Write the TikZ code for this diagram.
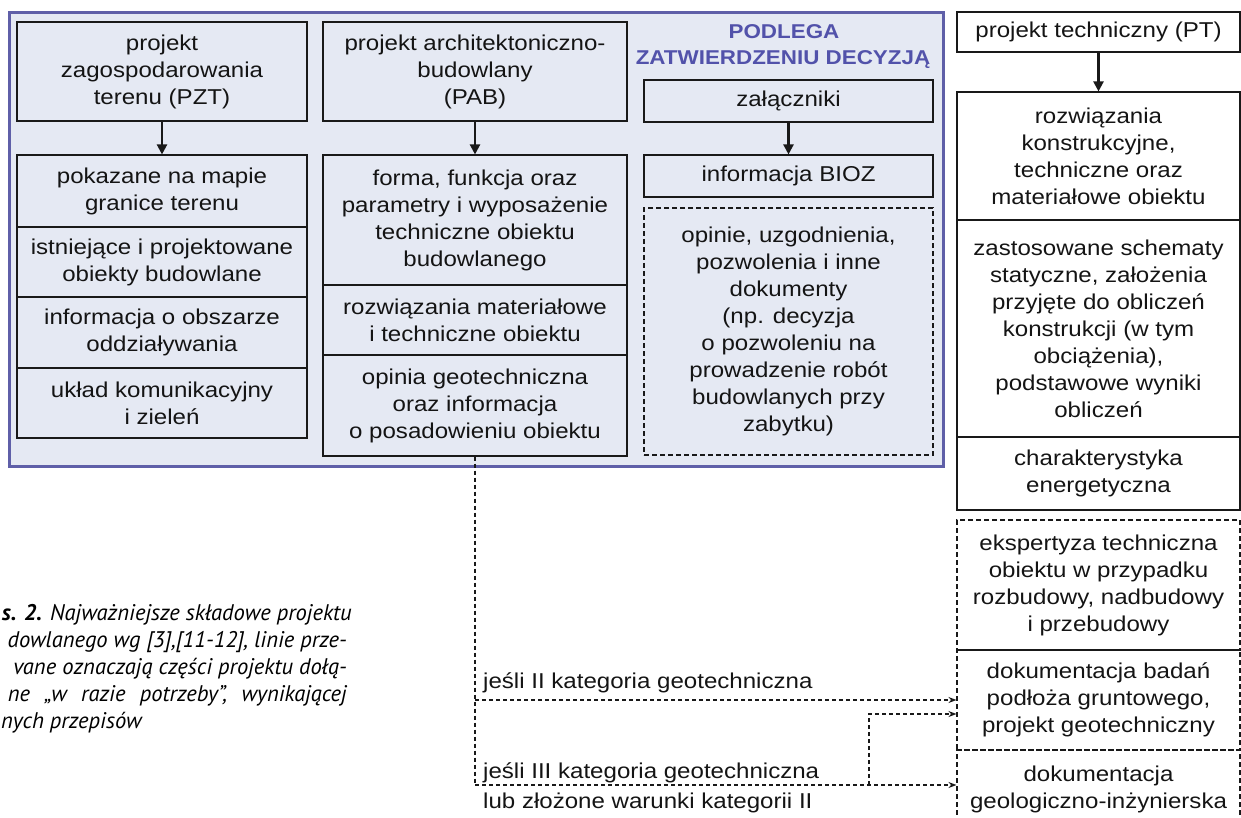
\documentclass[tikz,border=0pt]{standalone}
\usepackage{fontspec}
\setmainfont{Liberation Sans}[FakeStretch=1.12]
\newfontfamily\capfont{PT Sans}
\usetikzlibrary{arrows.meta}
\definecolor{frameblue}{RGB}{95,95,168}
\definecolor{framefill}{RGB}{229,233,243}
\definecolor{titleblue}{RGB}{82,82,170}
\definecolor{lineblack}{RGB}{25,25,25}
\newcommand{\mkbox}[7][box]{%
  \pgfmathsetmacro\mkcx{(#3+#5)/2}\pgfmathsetmacro\mkcy{(#4+#6)/2}%
  \pgfmathsetmacro\mkbw{#5-#3}\pgfmathsetmacro\mkbh{#6-#4}%
  \node[#1, minimum width=\mkbw pt, minimum height=\mkbh pt] (#2) at (\mkcx,\mkcy) {#7};}
\begin{document}
\begin{tikzpicture}[x=1pt,y=-1pt,
  txt/.style={font=\fontsize{21.5}{27}\selectfont, text=black!92},
  box/.style={txt, draw=lineblack, line width=1.1pt, align=center, inner sep=0pt},
  dbox/.style={box, dash pattern=on 5pt off 3pt},
  frm/.style={draw=frameblue, line width=3pt, fill=framefill, inner sep=0pt},
  arr/.style={draw=lineblack, line width=2.2pt, -{Triangle[length=10pt,width=10pt]}},
  dline/.style={draw=lineblack, line width=1.1pt, dash pattern=on 4pt off 3pt},
  darr/.style={dline, -{Stealth[length=8pt,width=6pt]}},
  lbl/.style={txt, inner sep=0pt},
  ttl/.style={font=\fontsize{20}{24}\selectfont\bfseries, text=titleblue, inner sep=0pt},
  captext/.style={font=\capfont\itshape\fontsize{22.6}{27}\selectfont, inner sep=0pt}]
\useasboundingbox (0,0) rectangle (1241,818);
% frame
\mkbox[frm]{frame}{9}{13}{943}{466}{}
% column 1
\mkbox{pzt}{17}{22}{307}{121}{projekt\\zagospodarowania\\terenu (PZT)}
\mkbox{c1a}{17}{155}{307}{227}{pokazane na mapie\\granice terenu}
\mkbox{c1b}{17}{227}{307}{297}{istniejące i projektowane\\obiekty budowlane}
\mkbox{c1c}{17}{297}{307}{368}{informacja o obszarze\\oddziaływania}
\mkbox{c1d}{17}{368}{307}{438}{układ komunikacyjny\\i zieleń}
% column 2
\mkbox{pab}{323}{22}{627}{121}{projekt architektoniczno-\\budowlany\\(PAB)}
\mkbox{c2a}{323}{155}{627}{285}{forma, funkcja oraz\\parametry i wyposażenie\\techniczne obiektu\\budowlanego}
\mkbox{c2b}{323}{285}{627}{355}{rozwiązania materiałowe\\i techniczne obiektu}
\mkbox{c2c}{323}{355}{627}{456}{opinia geotechniczna\\oraz informacja\\o posadowieniu obiektu}
% column 3
\node[ttl] (t1) at (784,32) {PODLEGA};
\node[ttl] (t2) at (783,60) {ZATWIERDZENIU DECYZJĄ};
\mkbox{zal}{644}{80}{933}{122}{załączniki}
\mkbox{bioz}{644}{155}{933}{197}{informacja BIOZ}
\mkbox[dbox]{opin}{644}{208}{933}{455}{opinie, uzgodnienia,\\pozwolenia i inne\\dokumenty\\(np. decyzja\\o pozwoleniu na\\prowadzenie robót\\budowlanych przy\\zabytku)}
% right column
\mkbox{pt}{957}{12}{1240}{52}{projekt techniczny (PT)}
\mkbox{r1}{957}{92}{1240}{220}{rozwiązania\\konstrukcyjne,\\techniczne oraz\\materiałowe obiektu}
\mkbox{r2}{957}{220}{1240}{437}{zastosowane schematy\\statyczne, założenia\\przyjęte do obliczeń\\konstrukcji (w tym\\obciążenia),\\podstawowe wyniki\\obliczeń}
\mkbox{r3}{957}{437}{1240}{510}{charakterystyka\\energetyczna}
\mkbox[dbox]{d1}{957}{520}{1240}{650}{ekspertyza techniczna\\obiektu w przypadku\\rozbudowy, nadbudowy\\i przebudowy}
\mkbox[dbox]{d2}{957}{650}{1240}{750}{dokumentacja badań\\podłoża gruntowego,\\projekt geotechniczny}
\mkbox[dbox]{d3}{957}{750}{1240}{828}{dokumentacja\\geologiczno-inżynierska}
% solid arrows
\draw[arr] (pzt) -- (c1a);
\draw[arr] (pab) -- (c2a);
\draw[arr] (zal) -- (bioz);
\draw[arr] (pt) -- (r1);
% dashed connectors
\coordinate (j1) at (475,700);
\coordinate (j2) at (475,785);
\coordinate (j3) at (869,785);
\coordinate (j4) at (869,714);
\draw[dline] (c2c.south) -- (j2);
\draw[darr] (j1) -- (j1 -| d2.west);
\draw[darr] (j2) -- (j2 -| d3.west);
\draw[darr] (j3) -- (j4) -- (j4 -| d2.west);
% labels
\node[lbl, anchor=base west] (l1) at (483,688) {jeśli II kategoria geotechniczna};
\node[lbl, anchor=base west] (l2) at (483,778) {jeśli III kategoria geotechniczna};
\node[lbl, anchor=base west] (l3) at (483,808) {lub złożone warunki kategorii II};
% caption
\node[captext, anchor=base east] (k1) at (352,620) {\textbf{s. 2.} Najważniejsze składowe projektu};
\node[captext, anchor=base east] (k2) at (347,647) {dowlanego wg [3],[11-12], linie prze-};
\node[captext, anchor=base east] (k3) at (347,674) {vane oznaczają części projektu dołą-};
\node[captext, anchor=base east] (k4) at (347,701) {\hbox to 339pt{ne\hfill „w\hfill razie\hfill potrzeby”,\hfill wynikającej}};
\node[captext, anchor=base west] (k5) at (1,728) {nych przepisów};
\end{tikzpicture}
\end{document}
